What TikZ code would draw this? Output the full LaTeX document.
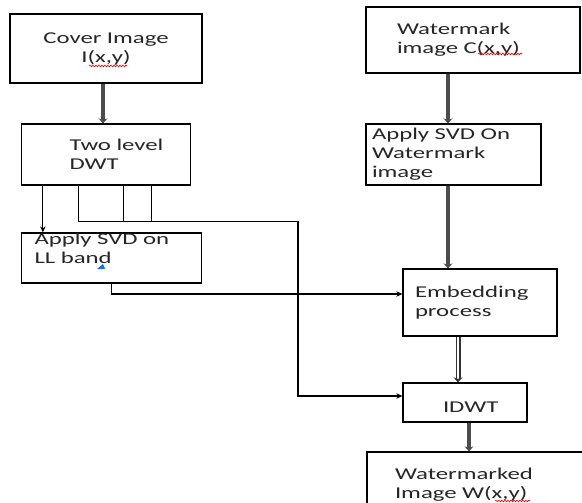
\documentclass[tikz,border=0pt]{standalone}
\usepackage{fontspec}
\usepackage{xcolor}
\usetikzlibrary{arrows.meta, positioning, decorations.pathmorphing}

\newfontfamily\diagfamily[FakeStretch=1.5]{Carlito}
\newcommand\diagfont{\diagfamily\fontsize{16.5pt}{19pt}\selectfont}

\begin{document}
\begin{tikzpicture}[x=1pt, y=-1pt, on grid,
  box/.style={rectangle, draw, line width=1.3pt, inner ysep=0pt, align=left, font=\diagfont, text=black!85},
  flow/.style={line width=1.2pt, -{Stealth[length=6pt, width=5.5pt]}},
  link/.style={line width=1.2pt},
  bigflow/.style={draw=black!70, line width=3.5pt, -{Stealth[length=5pt, width=9pt]}},
  hollowflow/.style={draw=black!80, double=white, double distance=2.8pt, line width=1.1pt, -{Stealth[length=5pt, width=9pt]}},
  spell/.style={red, line width=0.6pt, decorate, decoration={snake, amplitude=0.9pt, segment length=3pt}}]

  \path[use as bounding box, fill=white] (0,0) rectangle (582,503);

  \node[box, align=center, minimum width=192pt, minimum height=69pt, text width=184pt, inner xsep=4pt] (cover) at (106,48.5) {Cover Image\\I(x,y)};
  \node[box, minimum width=169pt, minimum height=61pt, text width=73pt, inner xsep=48pt, below=106pt of cover] (dwt) {Two~level\\DWT};
  \node[box, minimum width=180pt, minimum height=50pt, text width=154pt, inner xsep=13pt, below right=103.5pt and 5.5pt of dwt] (svdll) {Apply SVD on\\LL band\\\mbox{}};

  \node[box, minimum width=214pt, minimum height=66pt, text width=152pt, inner xsep=31pt] (wm) at (473,40) {Watermark\\image~C(x,y)};
  \node[box, minimum width=175pt, minimum height=61pt, text width=163pt, inner xsep=6pt, below left=114.5pt and 19.5pt of wm] (svdwm) {Apply SVD On\\Watermark\\image};
  \node[box, minimum width=154pt, minimum height=67pt, text width=130pt, inner xsep=12pt, below right=148pt and 26.5pt of svdwm] (embed) {Embedding\\process};
  \node[box, minimum width=124pt, minimum height=39pt, text width=44pt, inner xsep=40pt, below left=100pt and 15pt of embed] (idwt) {\mbox{}\\IDWT};
  \node[box, minimum width=230pt, minimum height=66pt, text width=174pt, inner xsep=28pt, below right=82.5pt and 17pt of idwt] (out) {Watermarked\\Image~W(x,y)};

  % thick arrows
  \draw[bigflow] ([xshift=-3pt]cover.south) -- ([xshift=-3pt]cover.south |- dwt.north);
  \draw[bigflow] ([xshift=-5.5pt]svdwm.north |- wm.south) -- ([xshift=-5.5pt]svdwm.north);
  \draw[bigflow] ([xshift=-5.5pt]svdwm.south) -- ([xshift=-5.5pt]svdwm.south |- embed.north);
  \draw[hollowflow] ([xshift=-7pt]idwt.north |- embed.south) -- ([xshift=-7pt]idwt.north);
  \draw[bigflow] ([xshift=4pt]idwt.south) -- ([xshift=4pt]idwt.south |- out.north);

  % bands out of the DWT
  \coordinate (bus) at (298,221.5);
  \draw[flow] ([xshift=22pt]dwt.south west) -- ([xshift=22pt]dwt.south west |- svdll.north);
  \draw[flow] ([xshift=58pt]dwt.south west) |- (bus) |- ([yshift=6.5pt]idwt.west);
  \draw[link] ([xshift=103pt]dwt.south west) -- ([xshift=103pt]dwt.south west |- bus);
  \draw[link] ([xshift=131pt]dwt.south west) -- ([xshift=131pt]dwt.south west |- bus);
  \draw[flow] (svdll.south) |- ([yshift=8.5pt]embed.west);

  % spell-check marks
  \draw[spell] (89,66) -- (127,66);
  \draw[spell] (478,54) -- (522,54);
  \draw[spell] (495,501) -- (530,501);
  \fill[blue!55!cyan] (97,269) -- (105,269) -- (103,264) -- cycle;

\end{tikzpicture}
\end{document}
